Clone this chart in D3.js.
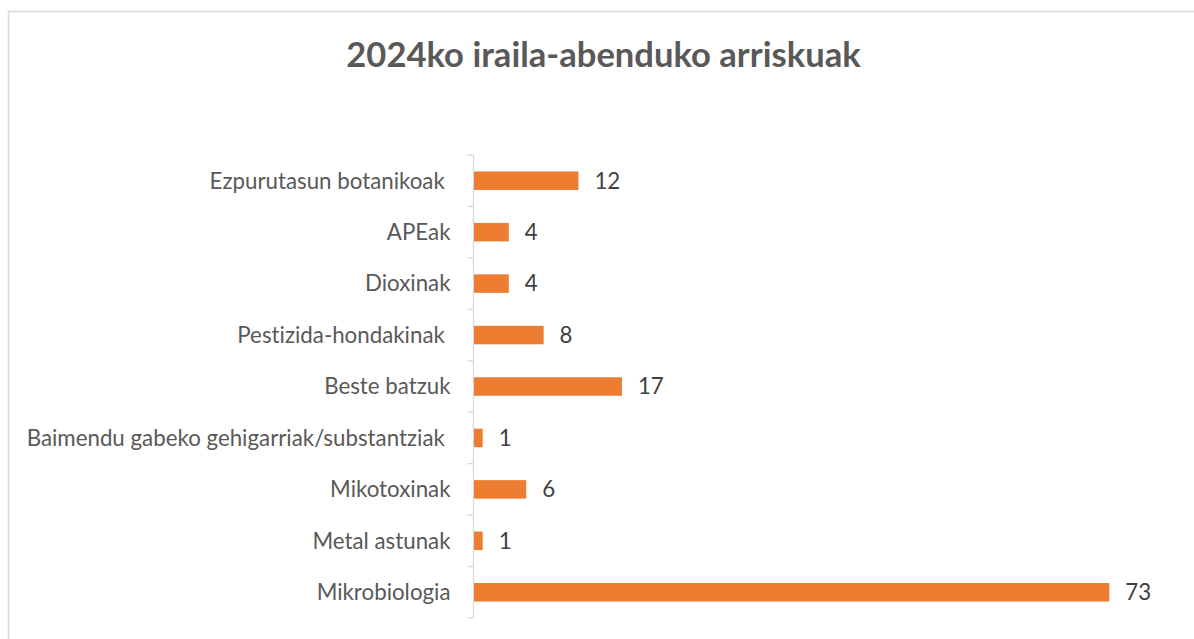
<!DOCTYPE html>
<html>
<head>
<meta charset="utf-8">
<script src="https://cdn.jsdelivr.net/npm/d3@7"></script>
<style>
  body { margin: 0; background: #fff; }
  svg text { font-family: Lato, "Open Sans", sans-serif; white-space: pre; font-variant-ligatures: none; }
</style>
</head>
<body>
<div id="content"></div>
<script>
// Chart data (top to bottom).
var categories = [
  "Ezpurutasun botanikoak ",
  "APEak",
  "Dioxinak",
  "Pestizida-hondakinak ",
  "Beste batzuk",
  "Baimendu gabeko gehigarriak/substantziak ",
  "Mikotoxinak",
  "Metal astunak",
  "Mikrobiologia"
];
var values = [12, 4, 4, 8, 17, 1, 6, 1, 73];
var title = "2024ko iraila-abenduko arriskuak";

var data = categories.map(function(c, i) { return {name : c, value : values[i]}; });

var width = 1194, height = 639;
var svg = d3.select('#content')
              .append('svg')
              .attr('width', width)
              .attr('height', height);

// Chart frame.
svg.append('rect')
    .attr('x', 8.5)
    .attr('y', 11.5)
    .attr('width', 1200)
    .attr('height', 700)
    .style('fill', '#fff')
    .style('stroke', '#d9d9d9')
    .style('stroke-width', 1.5);

// Title.
svg.append('text')
    .attr('x', 603.5)
    .attr('y', 67)
    .attr('text-anchor', 'middle')
    .style('font-size', '34.6px')
    .style('font-weight', 'bold')
    .style('fill', '#595959')
    .text(title);

// Scales.
var scaleX = d3.scaleLinear().domain([ 0, 73 ]).range([ 474, 1109.3 ]);
var scaleY = d3.scaleBand()
                 .domain(categories)
                 .range([ 155, 618 ])
                 .paddingInner(0.64)
                 .paddingOuter(0.32);

// Category axis, with ticks between the bands.
var axisG = svg.append('g').attr('transform', 'translate(473.5,0)');
axisG.append('line')
    .attr('y1', 155)
    .attr('y2', 618)
    .style('stroke', '#d9d9d9')
    .style('stroke-width', 1.3);
var step = scaleY.step();
axisG.selectAll('line.tick')
    .data(d3.range(categories.length + 1))
    .enter()
    .append('line')
    .attr('class', 'tick')
    .attr('x1', -6)
    .attr('x2', 0)
    .attr('y1', function(i) { return 155 + i * step; })
    .attr('y2', function(i) { return 155 + i * step; })
    .style('stroke', '#d9d9d9')
    .style('stroke-width', 1.3);

axisG.selectAll('text')
    .data(categories)
    .enter()
    .append('text')
    .attr('x', -23)
    .attr('y', function(d) { return scaleY(d) + scaleY.bandwidth() / 2; })
    .attr('dy', '0.35em')
    .attr('text-anchor', 'end')
    .style('font-size', '22.3px')
    .style('fill', '#595959')
    .text(function(d) { return d; });

// Bars.
svg.selectAll('rect.bar')
    .data(data)
    .enter()
    .append('rect')
    .attr('class', 'bar')
    .attr('x', scaleX(0))
    .attr('y', function(d) { return scaleY(d.name); })
    .attr('width', function(d) { return scaleX(d.value) - scaleX(0); })
    .attr('height', scaleY.bandwidth())
    .style('fill', '#ed7d31');

// Value labels.
svg.selectAll('text.value')
    .data(data)
    .enter()
    .append('text')
    .attr('class', 'value')
    .attr('x', function(d) { return scaleX(d.value) + 16; })
    .attr('y', function(d) { return scaleY(d.name) + scaleY.bandwidth() / 2; })
    .attr('dy', '0.35em')
    .style('font-size', '22.3px')
    .style('fill', '#404040')
    .text(function(d) { return d.value; });
</script>
</body>
</html>
